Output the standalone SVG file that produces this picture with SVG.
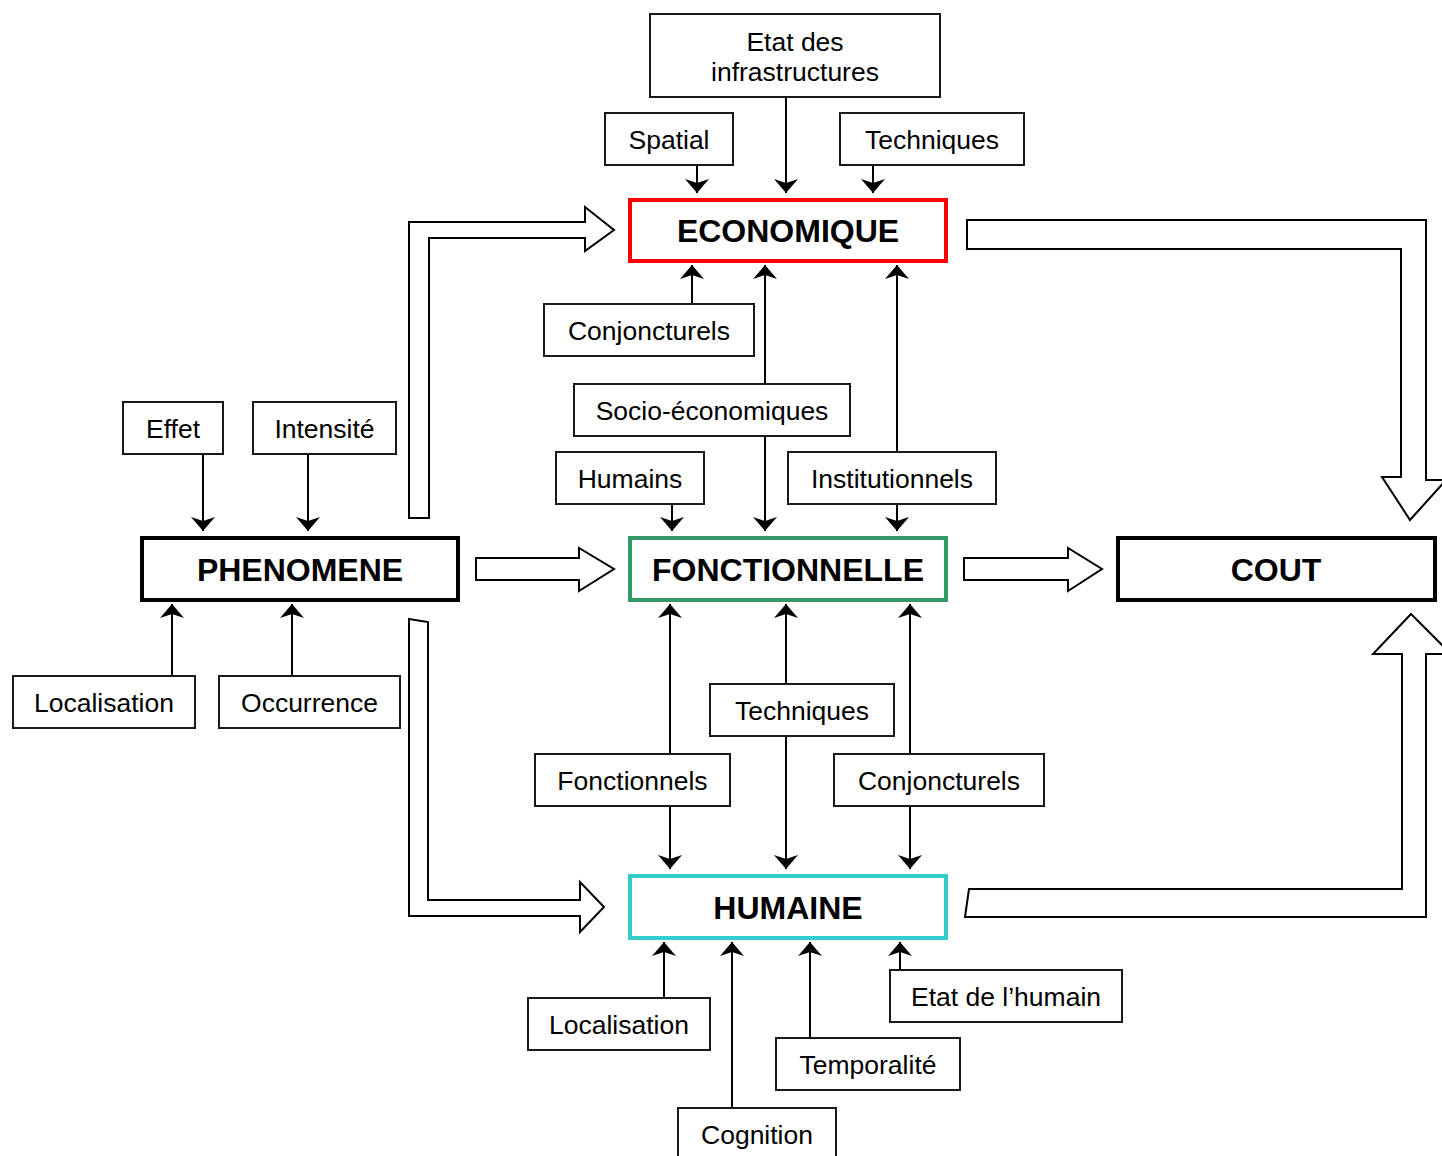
<svg xmlns="http://www.w3.org/2000/svg" width="1442" height="1156" viewBox="0 0 1442 1156">
<style>
.lbl rect{fill:#fff;stroke:#1a1a1a;stroke-width:2}
.lbl text{font-family:"Liberation Sans",Arial,sans-serif;font-size:26.5px;fill:#000;text-anchor:middle}
.main rect{fill:#fff;stroke-width:4}
.main text{font-family:"Liberation Sans",Arial,sans-serif;font-size:32px;font-weight:bold;fill:#000;text-anchor:middle}
.conn line{stroke:#000;stroke-width:2;fill:none;marker-end:url(#ah)}
.block polygon{fill:#fff;stroke:#000;stroke-width:2;stroke-linejoin:miter}
</style>
<defs>
<marker id="ah" markerUnits="userSpaceOnUse" markerWidth="14" markerHeight="24" viewBox="0 -12 14 24" refX="14" refY="0" orient="auto">
<path d="M14,0 L0,-12 L4,0 L0,12 Z" fill="#000"/>
</marker>
</defs>
<rect width="1442" height="1156" fill="#fff"/>

<g id="block-arrows" class="block">
<polygon points="409,518 409,222 585,222 585,207 614,230 585,251 585,238 429,238 429,518"/>
<polygon points="967,220 1426,220 1426,480 1446,480 1410,520 1382,477 1401,477 1401,249 967,249"/>
<polygon points="476,558 579,558 579,548 614,569 579,591 579,580 476,580"/>
<polygon points="964,558 1068,558 1068,548 1102,569 1068,591 1068,580 964,580"/>
<polygon points="409,619 428,622 428,900 580,900 580,882 604,907 580,932 580,916 409,916"/>
<polygon points="965,917 969,889 1402,889 1402,654 1373,654 1411,614 1451,654 1426,654 1426,917"/>
</g>

<g id="connectors" class="conn">
<line x1="697" y1="165" x2="697" y2="193"/>
<line x1="786" y1="97" x2="786" y2="193"/>
<line x1="873" y1="165" x2="873" y2="193"/>
<line x1="692" y1="304" x2="692" y2="265"/>
<line x1="765" y1="384" x2="765" y2="265"/>
<line x1="765" y1="436" x2="765" y2="531"/>
<line x1="897" y1="452" x2="897" y2="265"/>
<line x1="897" y1="504" x2="897" y2="531"/>
<line x1="672" y1="504" x2="672" y2="531"/>
<line x1="203" y1="454" x2="203" y2="531"/>
<line x1="308" y1="454" x2="308" y2="531"/>
<line x1="172" y1="676" x2="172" y2="604"/>
<line x1="292" y1="676" x2="292" y2="604"/>
<line x1="670" y1="754" x2="670" y2="604"/>
<line x1="670" y1="806" x2="670" y2="869"/>
<line x1="786" y1="684" x2="786" y2="604"/>
<line x1="786" y1="736" x2="786" y2="869"/>
<line x1="910" y1="754" x2="910" y2="604"/>
<line x1="910" y1="806" x2="910" y2="869"/>
<line x1="664" y1="998" x2="664" y2="942"/>
<line x1="732" y1="1108" x2="732" y2="942"/>
<line x1="810" y1="1038" x2="810" y2="942"/>
<line x1="900" y1="970" x2="900" y2="942"/>
</g>

<g id="economique" class="main"><rect x="630" y="200" width="316" height="61" stroke="#FF0000"/><text x="788" y="242">ECONOMIQUE</text></g>
<g id="fonctionnelle" class="main"><rect x="630" y="538" width="316" height="62" stroke="#339966"/><text x="788" y="580.5">FONCTIONNELLE</text></g>
<g id="humaine" class="main"><rect x="630" y="876" width="316" height="62" stroke="#33CCCC"/><text x="788" y="918.5">HUMAINE</text></g>
<g id="phenomene" class="main"><rect x="142" y="538" width="316" height="62" stroke="#000"/><text x="300" y="580.5">PHENOMENE</text></g>
<g id="cout" class="main"><rect x="1118" y="538" width="317" height="62" stroke="#000"/><text x="1276" y="580.5">COUT</text></g>

<g id="etat-infra" class="lbl"><rect x="650" y="14" width="290" height="83"/><text x="795" y="50.5">Etat des</text><text x="795" y="80.5">infrastructures</text></g>
<g id="spatial" class="lbl"><rect x="605" y="113" width="128" height="52"/><text x="669" y="148.5">Spatial</text></g>
<g id="techniques-top" class="lbl"><rect x="840" y="113" width="184" height="52"/><text x="932" y="148.5">Techniques</text></g>
<g id="conjoncturels-top" class="lbl"><rect x="544" y="304" width="210" height="52"/><text x="649" y="339.5">Conjoncturels</text></g>
<g id="socio" class="lbl"><rect x="574" y="384" width="276" height="52"/><text x="712" y="419.5">Socio-économiques</text></g>
<g id="humains" class="lbl"><rect x="556" y="452" width="148" height="52"/><text x="630" y="487.5">Humains</text></g>
<g id="institutionnels" class="lbl"><rect x="788" y="452" width="208" height="52"/><text x="892" y="487.5">Institutionnels</text></g>
<g id="effet" class="lbl"><rect x="123" y="402" width="100" height="52"/><text x="173" y="437.5">Effet</text></g>
<g id="intensite" class="lbl"><rect x="253" y="402" width="143" height="52"/><text x="324.5" y="437.5">Intensité</text></g>
<g id="localisation-left" class="lbl"><rect x="13" y="676" width="182" height="52"/><text x="104" y="711.5">Localisation</text></g>
<g id="occurrence" class="lbl"><rect x="219" y="676" width="181" height="52"/><text x="309.5" y="711.5">Occurrence</text></g>
<g id="techniques-mid" class="lbl"><rect x="710" y="684" width="184" height="52"/><text x="802" y="719.5">Techniques</text></g>
<g id="fonctionnels" class="lbl"><rect x="535" y="754" width="195" height="52"/><text x="632.5" y="789.5">Fonctionnels</text></g>
<g id="conjoncturels-low" class="lbl"><rect x="834" y="754" width="210" height="52"/><text x="939" y="789.5">Conjoncturels</text></g>
<g id="localisation-bottom" class="lbl"><rect x="528" y="998" width="182" height="52"/><text x="619" y="1033.5">Localisation</text></g>
<g id="cognition" class="lbl"><rect x="678" y="1108" width="158" height="52"/><text x="757" y="1143.5">Cognition</text></g>
<g id="temporalite" class="lbl"><rect x="776" y="1038" width="184" height="52"/><text x="868" y="1073.5">Temporalité</text></g>
<g id="etat-humain" class="lbl"><rect x="890" y="970" width="232" height="52"/><text x="1006" y="1005.5">Etat de l’humain</text></g>
</svg>
